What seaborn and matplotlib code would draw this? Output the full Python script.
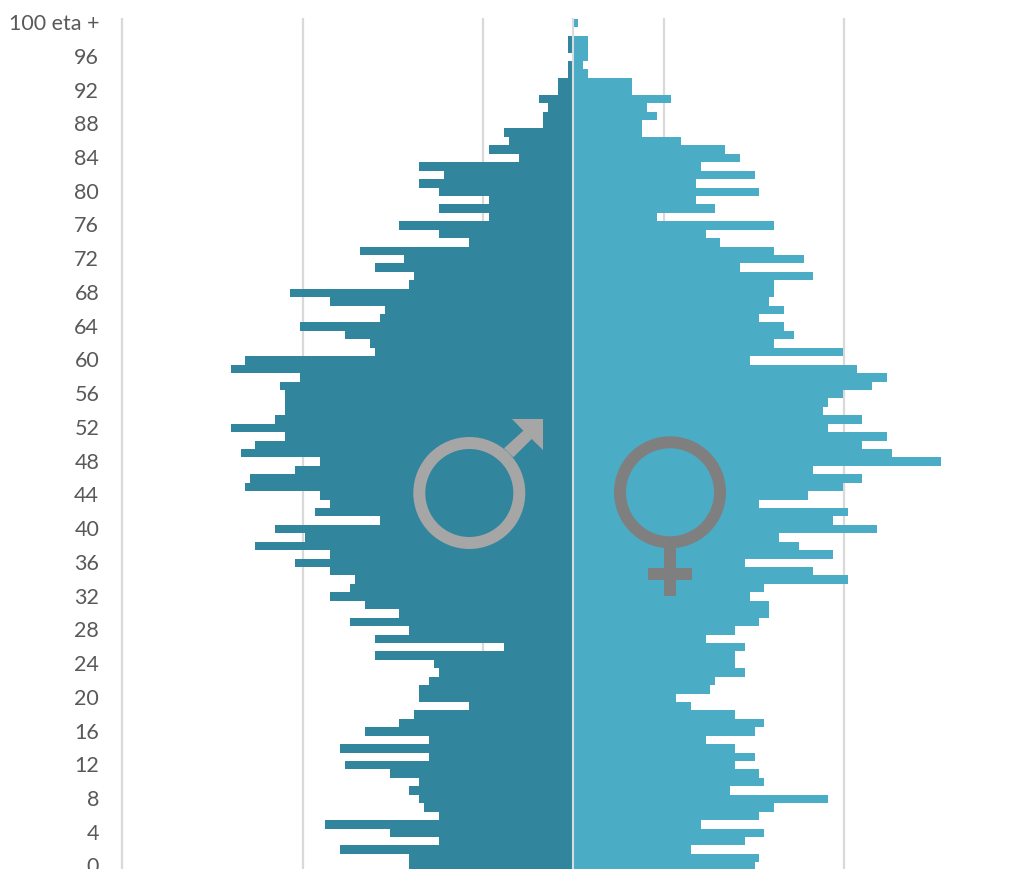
import matplotlib
matplotlib.use("Agg")
import matplotlib.pyplot as plt
from matplotlib.patches import Circle, Polygon, Rectangle
from matplotlib.transforms import ScaledTranslation
import numpy as np
import pandas as pd
import seaborn as sns

# ages listed from the top of the pyramid down
ages = list(range(100, -1, -1))
male = [
    0, 0, 1, 1, 0, 1, 1, 3, 3, 7, 5, 6, 6, 14, 13, 17, 11, 31, 26, 31, 27, 17, 27, 17, 35,
    27, 21, 43, 34, 40, 32, 33, 57, 49, 38, 39, 55, 46, 41, 40, 66, 69, 55, 59, 58, 58, 58, 60, 69, 58,
    64, 67, 51, 56, 65, 66, 51, 49, 52, 39, 60, 54, 64, 49, 56, 49, 44, 45, 49, 42, 35, 45, 33, 40, 14,
    40, 28, 27, 29, 31, 31, 21, 32, 35, 42, 29, 47, 29, 46, 37, 31, 33, 31, 30, 27, 50, 37, 27, 47, 33, 33,
]
female = [
    1, 0, 3, 3, 3, 2, 3, 12, 12, 20, 15, 17, 14, 14, 22, 31, 34, 26, 37, 25, 38, 25, 29, 17, 41,
    27, 30, 41, 47, 34, 49, 41, 41, 40, 43, 38, 43, 45, 41, 55, 36, 58, 64, 61, 55, 52, 51, 59, 52, 64,
    59, 65, 75, 49, 59, 55, 48, 38, 56, 53, 62, 42, 46, 53, 35, 49, 56, 39, 36, 40, 40, 38, 33, 27, 35,
    33, 33, 35, 29, 28, 21, 24, 33, 39, 37, 27, 33, 37, 33, 38, 39, 32, 52, 41, 38, 26, 39, 35, 24, 38, 37,
]
# one female unit is slightly narrower than one male unit in the picture
female_scale = 0.9865
tick_ages = list(range(0, 100, 4)) + [100]
tick_labels = [str(a) for a in range(0, 100, 4)] + ["100 eta +"]

male_color = "#31859C"
female_color = "#4BACC6"
text_color = "#595959"
grid_color = "#D9D9D9"

sns.set_theme(style="white")
plt.rcParams["font.family"] = ["Lato", "DejaVu Sans"]

df = pd.DataFrame({
    "age": ages,
    "male": -np.array(male),
    "female": np.array(female) * female_scale,
})

W, H = 1014, 870
fig = plt.figure(figsize=(W / 100, H / 100), dpi=100)
ax = fig.add_axes([120 / W, 0, (W - 120) / W, (H - 19) / H])

px_unit = 4.967
centre = 573.3
grid_px = [122.3, 302.6, 483, 663.6, 843.8]
for g in grid_px:
    ax.axvline((g - centre) / px_unit, color=grid_color, lw=1.6, zorder=0)

sns.barplot(data=df, y="age", x="male", orient="y", native_scale=True, width=1.0,
            color=male_color, saturation=1, linewidth=0, ax=ax, zorder=2)
sns.barplot(data=df, y="age", x="female", orient="y", native_scale=True, width=1.0,
            color=female_color, saturation=1, linewidth=0, ax=ax, zorder=2)
ax.axvline(0, color="#D5DDE0", lw=1.5, zorder=3)

ax.set_xlim((120 - centre) / px_unit, (W - centre) / px_unit)
ax.set_ylim(-0.3, 100.6)
ax.set_xticks([])
ax.set_yticks(tick_ages)
ax.set_yticklabels(tick_labels, fontsize=15.5, color=text_color)
ax.tick_params(axis="y", length=0, pad=15)
# labels sit a little above the bar centres
for lbl in ax.get_yticklabels():
    lbl.set_transform(lbl.get_transform() + ScaledTranslation(0, 2 / 100, fig.dpi_scale_trans))
ax.set_xlabel("")
ax.set_ylabel("")
sns.despine(ax=ax, left=True, bottom=True)
ax.patch.set_alpha(0)

# gender symbols, overlay in pixel coordinates
over = fig.add_axes([0, 0, 1, 1], zorder=5)
over.set_xlim(0, W)
over.set_ylim(H, 0)
over.axis("off")
male_sym = "#A6A6A6"
female_sym = "#7F7F7F"
over.add_patch(Circle((469.3, 494), 50, fill=False, ec=male_sym, lw=12 * 0.72))
over.add_patch(Polygon([(512, 420), (543, 420), (543, 451), (531.7, 440),
                        (513.3, 458.3), (504, 449.3), (523.3, 431.7)],
                       closed=True, fc=male_sym, ec="none"))
over.add_patch(Circle((670, 493.3), 50, fill=False, ec=female_sym, lw=12 * 0.72))
over.add_patch(Rectangle((664, 546), 12, 51, fc=female_sym, ec="none"))
over.add_patch(Rectangle((648, 569), 44, 12, fc=female_sym, ec="none"))

fig.savefig("out.png", dpi=100)
